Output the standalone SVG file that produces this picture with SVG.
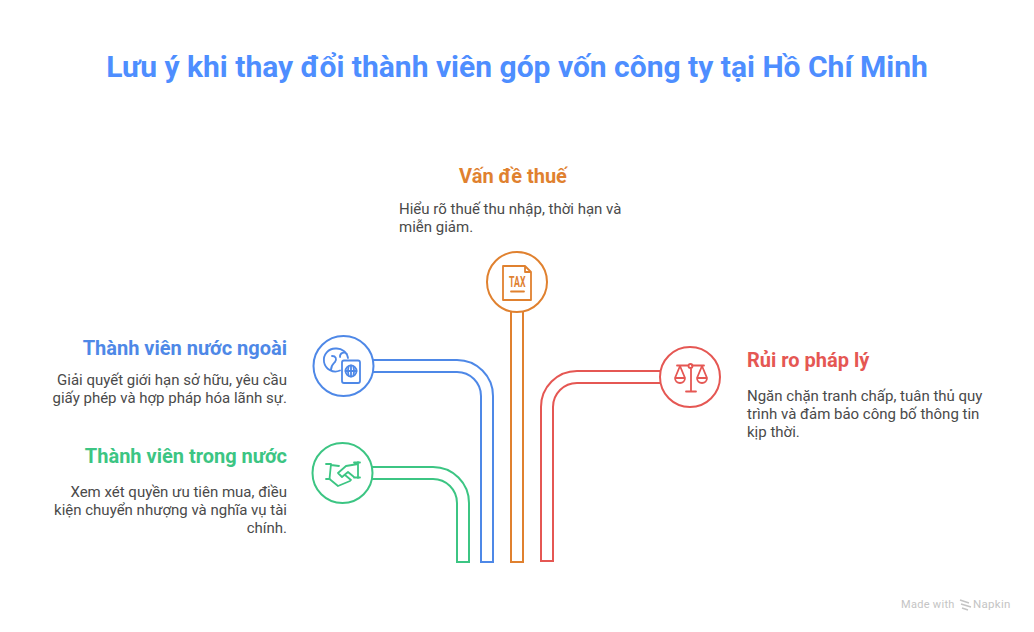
<svg xmlns="http://www.w3.org/2000/svg" width="1034" height="632" viewBox="0 0 1034 632">
<style>
text{font-family:Roboto,"Noto Sans",sans-serif}
.t{font-size:20px;font-weight:700}
.d{font-size:15px;fill:#4a4a4a}
.e{text-anchor:end}
.m{text-anchor:middle}
.l{fill:none;stroke-width:2}
.i{fill:none;stroke-width:1.800;stroke-linecap:round;stroke-linejoin:round}
.c{fill:#fff;stroke-width:2}
.blue{stroke:#4e88e7}.green{stroke:#3cc583}.orange{stroke:#e0812f}.red{stroke:#e55753}
</style>
<rect width="1034" height="632" fill="#fff"/>
<text x="517" y="77" class="m" font-size="30" font-weight="700" fill="#4e8eff">Lưu ý khi thay đổi thành viên góp vốn công ty tại Hồ Chí Minh</text>
<g id="connectors">
<path class="l green" d="M372 467H433A36 36 0 0 1 469 503V562H457V503A24 24 0 0 0 433 479H372"/>
<path class="l blue" d="M373 360H457A36 36 0 0 1 493 396V562H481V396A24 24 0 0 0 457 372H373"/>
<path class="l orange" d="M511 311V562H523V311"/>
<path class="l red" d="M661 371H577A36 36 0 0 0 541 407V561H553V407A24 24 0 0 1 577 383H661"/>
</g>
<g id="node-orange">
<text x="513" y="183" class="t m" fill="#e0812f">Vấn đề thuế</text>
<text class="d"><tspan x="399" y="214">Hiểu rõ thuế thu nhập, thời hạn và</tspan><tspan x="399" y="232">miễn giảm.</tspan></text>
<circle class="c orange" cx="517" cy="282" r="30"/>
<path class="i orange" d="M503 266H525L531 272V300H503ZM525 266V272H531M511 291.500H524"/>
<text x="509" y="287" font-size="14" font-weight="700" fill="#e0812f" textLength="16.500" lengthAdjust="spacingAndGlyphs">TAX</text>
</g>
<g id="node-blue">
<text x="287" y="355" class="t e" fill="#4e88e7">Thành viên nước ngoài</text>
<text class="d e"><tspan x="287" y="385">Giải quyết giới hạn sở hữu, yêu cầu</tspan><tspan x="287" y="403">giấy phép và hợp pháp hóa lãnh sự.</tspan></text>
<circle class="c blue" cx="343.500" cy="366" r="30"/>
<path class="i blue" d="M340 370.500A11.500 11.500 0 1 1 336 348.500A11.500 11.500 0 0 1 348 358M332 356C336 356 337 359 335 362C333 364 331 365 331 370M340 357A4 4 0 0 1 347 354"/>
<rect class="i blue" x="342" y="360.500" width="18" height="22.500" rx="2" fill="#fff"/>
<circle class="i blue" cx="351" cy="371" r="5.500"/>
<path class="i blue" d="M345.500 371H356.500M351 365.500V376.500M348.500 367C347.500 370 347.500 372 348.500 375M353.500 367C354.500 370 354.500 372 353.500 375"/>
</g>
<g id="node-green">
<text x="287" y="463" class="t e" fill="#3cc583">Thành viên trong nước</text>
<text class="d e"><tspan x="287" y="497">Xem xét quyền ưu tiên mua, điều</tspan><tspan x="287" y="515">kiện chuyển nhượng và nghĩa vụ tài</tspan><tspan x="287" y="533">chính.</tspan></text>
<circle class="c green" cx="342.500" cy="473" r="30"/>
<path class="i green" d="M326 464H331L329.500 479L338 486L350 481M331 465L339 466M326 479H330M358 462V478M354 462.500H360M354 477.500H360M358 464L346 466L338 473L342 477L348 472L354 477M345 475L351 480"/>
</g>
<g id="node-red">
<text x="747" y="367" class="t" fill="#e55753">Rủi ro pháp lý</text>
<text class="d"><tspan x="747" y="401">Ngăn chặn tranh chấp, tuân thủ quy</tspan><tspan x="747" y="419">trình và đảm bảo công bố thông tin</tspan><tspan x="747" y="437">kịp thời.</tspan></text>
<circle class="c red" cx="690" cy="377" r="30"/>
<path class="i red" d="M677 365.500H688M692 365.500H704M691 369V391M686 391.500H696M680 366L675 378M680 366L685 378M675 378H685A5 5 0 0 1 675 378M702 366L697 378M702 366L707 378M697 378H707A5 5 0 0 1 697 378"/>
<circle class="i red" cx="690.500" cy="366" r="2"/>
</g>
<g id="credit">
<text x="901" y="608" font-size="11" fill="#c4c4c4" letter-spacing=".3">Made with</text>
<path d="M960 600L969 603M961 604L971 607M962 608L968 610" fill="none" stroke="#c4c4c4" stroke-width="1.500"/>
<text x="973" y="608" font-size="11.500" fill="#c4c4c4" letter-spacing=".3">Napkin</text>
</g>
</svg>
